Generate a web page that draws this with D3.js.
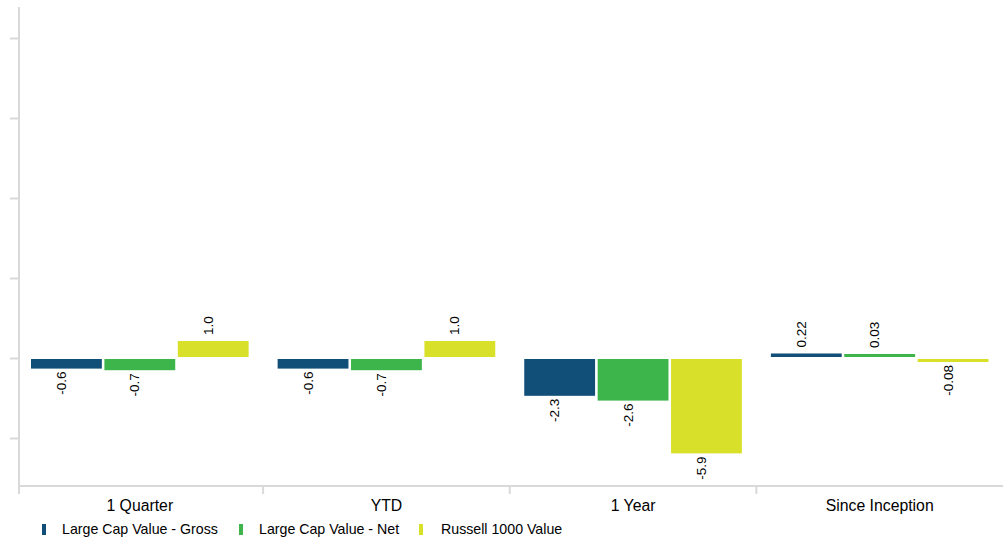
<!DOCTYPE html>
<html>
<head>
<meta charset="utf-8">
<script src="https://cdn.jsdelivr.net/npm/d3@7"></script>
<style>
  html, body { margin: 0; padding: 0; background: #fff; }
  svg { display: block; font-family: "Liberation Sans", Arial, sans-serif; }
</style>
</head>
<body>
<svg id="chart" width="1005" height="539"></svg>
<script>
// Performance periods and the three return series (percent)
const categories = ["1 Quarter", "YTD", "1 Year", "Since Inception"];
const seriesNames = ["Large Cap Value - Gross", "Large Cap Value - Net", "Russell 1000 Value"];
const grossValues = [-0.6, -0.6, -2.3, 0.22];
const netValues = [-0.7, -0.7, -2.6, 0.03];
const benchmarkValues = [1.0, 1.0, -5.9, -0.08];
const valueLabels = [
  ["-0.6", "-0.6", "-2.3", "0.22"],
  ["-0.7", "-0.7", "-2.6", "0.03"],
  ["1.0", "1.0", "-5.9", "-0.08"]
];
const yTicks = [-5, 0, 5, 10, 15, 20];
const colors = ["#114e78", "#3db54a", "#d9e02a"];

const seriesValues = [grossValues, netValues, benchmarkValues];

const svg = d3.select("#chart");
const axisColor = "#d9d9d9";

const x = d3.scaleBand().domain(categories).range([16.5, 1003]);
const xInner = d3.scaleBand().domain(d3.range(seriesNames.length))
  .range([14.5, x.bandwidth() - 14.5]).paddingInner(0.035);
const y = d3.scaleLinear().domain([-8, 22]).range([486, 6]);

// Y axis: line with tick marks, no labels
const yAxis = svg.append("g").attr("transform", "translate(19,0)")
  .call(d3.axisLeft(y).tickValues(yTicks).tickSize(9).tickFormat(""));
yAxis.select(".domain").remove();
yAxis.selectAll(".tick line").attr("stroke", axisColor).attr("stroke-width", 2);
svg.append("line")
  .attr("x1", 19).attr("x2", 19).attr("y1", 7).attr("y2", 494)
  .attr("stroke", axisColor).attr("stroke-width", 2);

// X axis baseline with separators between the period groups
svg.append("line")
  .attr("x1", 19).attr("x2", 1003).attr("y1", y(-8)).attr("y2", y(-8))
  .attr("stroke", axisColor).attr("stroke-width", 2);
svg.append("g").selectAll("line")
  .data(categories.slice(1))
  .join("line")
  .attr("x1", d => x(d)).attr("x2", d => x(d))
  .attr("y1", y(-8)).attr("y2", y(-8) + 8)
  .attr("stroke", axisColor).attr("stroke-width", 2);

// Category labels
svg.append("g").selectAll("text")
  .data(categories)
  .join("text")
  .attr("x", d => x(d) + x.bandwidth() / 2)
  .attr("y", 511)
  .attr("text-anchor", "middle")
  .attr("font-size", 15.8)
  .attr("fill", "#000")
  .text(d => d);

// Bars and rotated value labels
const records = [];
seriesValues.forEach((vals, si) => {
  vals.forEach((v, ci) => records.push({ si, ci, v, label: valueLabels[si][ci] }));
});

const minH = 3;
function barTop(d) {
  const h = Math.max(Math.abs(y(d.v) - y(0)), minH);
  return d.v >= 0 ? y(0) - h - 1 : y(0) + 1;
}
function barHeight(d) {
  return Math.max(Math.abs(y(d.v) - y(0)), minH);
}
function barX(d) {
  return x(categories[d.ci]) + xInner(d.si);
}

svg.append("g").selectAll("rect")
  .data(records)
  .join("rect")
  .attr("x", d => barX(d))
  .attr("width", xInner.bandwidth())
  .attr("y", d => barTop(d))
  .attr("height", d => barHeight(d))
  .attr("fill", d => colors[d.si]);

svg.append("g").selectAll("text")
  .data(records)
  .join("text")
  .attr("font-size", 13.5)
  .attr("fill", "#000")
  .attr("text-anchor", d => d.v >= 0 ? "start" : "end")
  .attr("transform", d => {
    const cx = barX(d) + xInner.bandwidth() / 2 - 0.5;
    const cy = d.v >= 0 ? barTop(d) - 6 : barTop(d) + barHeight(d) + 3;
    return `translate(${cx},${cy}) rotate(-90)`;
  })
  .text(d => d.label);

// Legend
const legendX = [42, 239, 419];
const legend = svg.append("g").selectAll("g")
  .data(seriesNames)
  .join("g")
  .attr("transform", (d, i) => `translate(${legendX[i]},0)`);
legend.append("rect")
  .attr("x", 0).attr("y", 524).attr("width", 4).attr("height", 11)
  .attr("fill", (d, i) => colors[i]);
legend.append("text")
  .attr("x", (d, i) => [20, 20, 22][i]).attr("y", 534)
  .attr("font-size", 14.2)
  .attr("fill", "#000")
  .text(d => d);
</script>
</body>
</html>
